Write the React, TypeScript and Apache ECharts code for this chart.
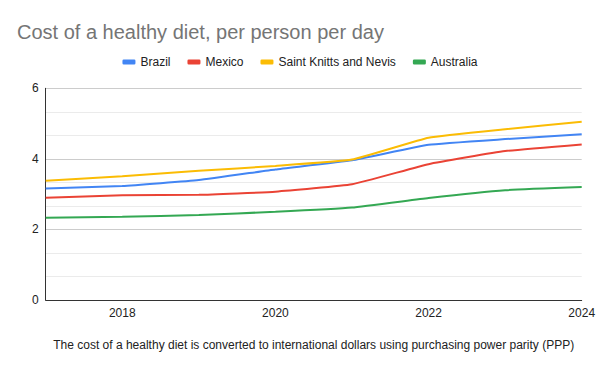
import React, { useEffect, useRef } from "react";
import * as echarts from "echarts";

const years = [2017, 2018, 2019, 2020, 2021, 2022, 2023, 2024];
const brazil = [3.16, 3.23, 3.4, 3.7, 3.96, 4.4, 4.56, 4.7];
const mexico = [2.9, 2.97, 2.98, 3.07, 3.28, 3.85, 4.22, 4.41];
const saintKitts = [3.38, 3.51, 3.66, 3.8, 3.98, 4.6, 4.84, 5.05];
const australia = [2.33, 2.36, 2.41, 2.5, 2.62, 2.89, 3.11, 3.2];
const xTickLabels = [2018, 2020, 2022, 2024];

const seriesDefs = [
  { name: "Brazil", values: brazil, color: "#4285F4" },
  { name: "Mexico", values: mexico, color: "#EA4335" },
  { name: "Saint Knitts and Nevis", values: saintKitts, color: "#FBBC04" },
  { name: "Australia", values: australia, color: "#34A853" },
];

const FONT = "'Liberation Sans', Arial, sans-serif";

export default function App() {
  const ref = useRef<HTMLDivElement>(null);
  useEffect(() => {
    if (!ref.current) return;
    const chart = echarts.init(ref.current, undefined, { renderer: "svg" });
    chart.setOption({
      animation: false,
      textStyle: { fontFamily: FONT },
      title: {
        text: "Cost of a healthy diet, per person per day",
        left: 12,
        top: 17,
        textStyle: { fontSize: 20, fontWeight: "normal", color: "#757575", fontFamily: FONT },
      },
      legend: {
        top: 51,
        left: "center",
        icon: "roundRect",
        itemWidth: 13,
        itemHeight: 5,
        itemGap: 17,
        textStyle: { fontSize: 12, color: "#222", fontFamily: FONT },
        data: seriesDefs.map((s) => s.name),
      },
      grid: { left: 45.7, right: 18.3, top: 88.3, bottom: 71, containLabel: false },
      xAxis: {
        type: "value",
        min: 2017,
        max: 2024,
        name: "The cost of a healthy diet is converted to international dollars using purchasing power parity (PPP)",
        nameLocation: "middle",
        nameGap: 39,
        nameTextStyle: { fontSize: 12, color: "#222", fontFamily: FONT },
        axisLine: { show: true, lineStyle: { color: "#333", width: 1 } },
        axisTick: { show: false },
        splitLine: { show: false },
        axisLabel: {
          customValues: xTickLabels,
          formatter: (v: number) => String(v),
          fontSize: 12,
          color: "#222",
          margin: 7,
          fontFamily: FONT,
        },
      },
      yAxis: {
        type: "value",
        min: 0,
        max: 6,
        interval: 2,
        axisLine: { show: true, lineStyle: { color: "#333", width: 1 } },
        axisTick: { show: false },
        axisLabel: { fontSize: 12, color: "#222", margin: 7, fontFamily: FONT },
        splitLine: { show: true, lineStyle: { color: "#cccccc", width: 1 } },
        minorTick: { show: false, splitNumber: 3 },
        minorSplitLine: { show: true, lineStyle: { color: "#ebebeb", width: 1 } },
      },
      series: seriesDefs.map((s) => ({
        name: s.name,
        type: "line",
        data: years.map((y, i) => [y, s.values[i]]),
        showSymbol: false,
        smooth: 0.12,
        color: s.color,
        lineStyle: { width: 2, color: s.color },
      })),
    });
    return () => chart.dispose();
  }, []);
  return (
    <div
      ref={ref}
      style={{ position: "fixed", left: 0, top: 0, width: 600, height: 371, background: "#fff" }}
    />
  );
}
